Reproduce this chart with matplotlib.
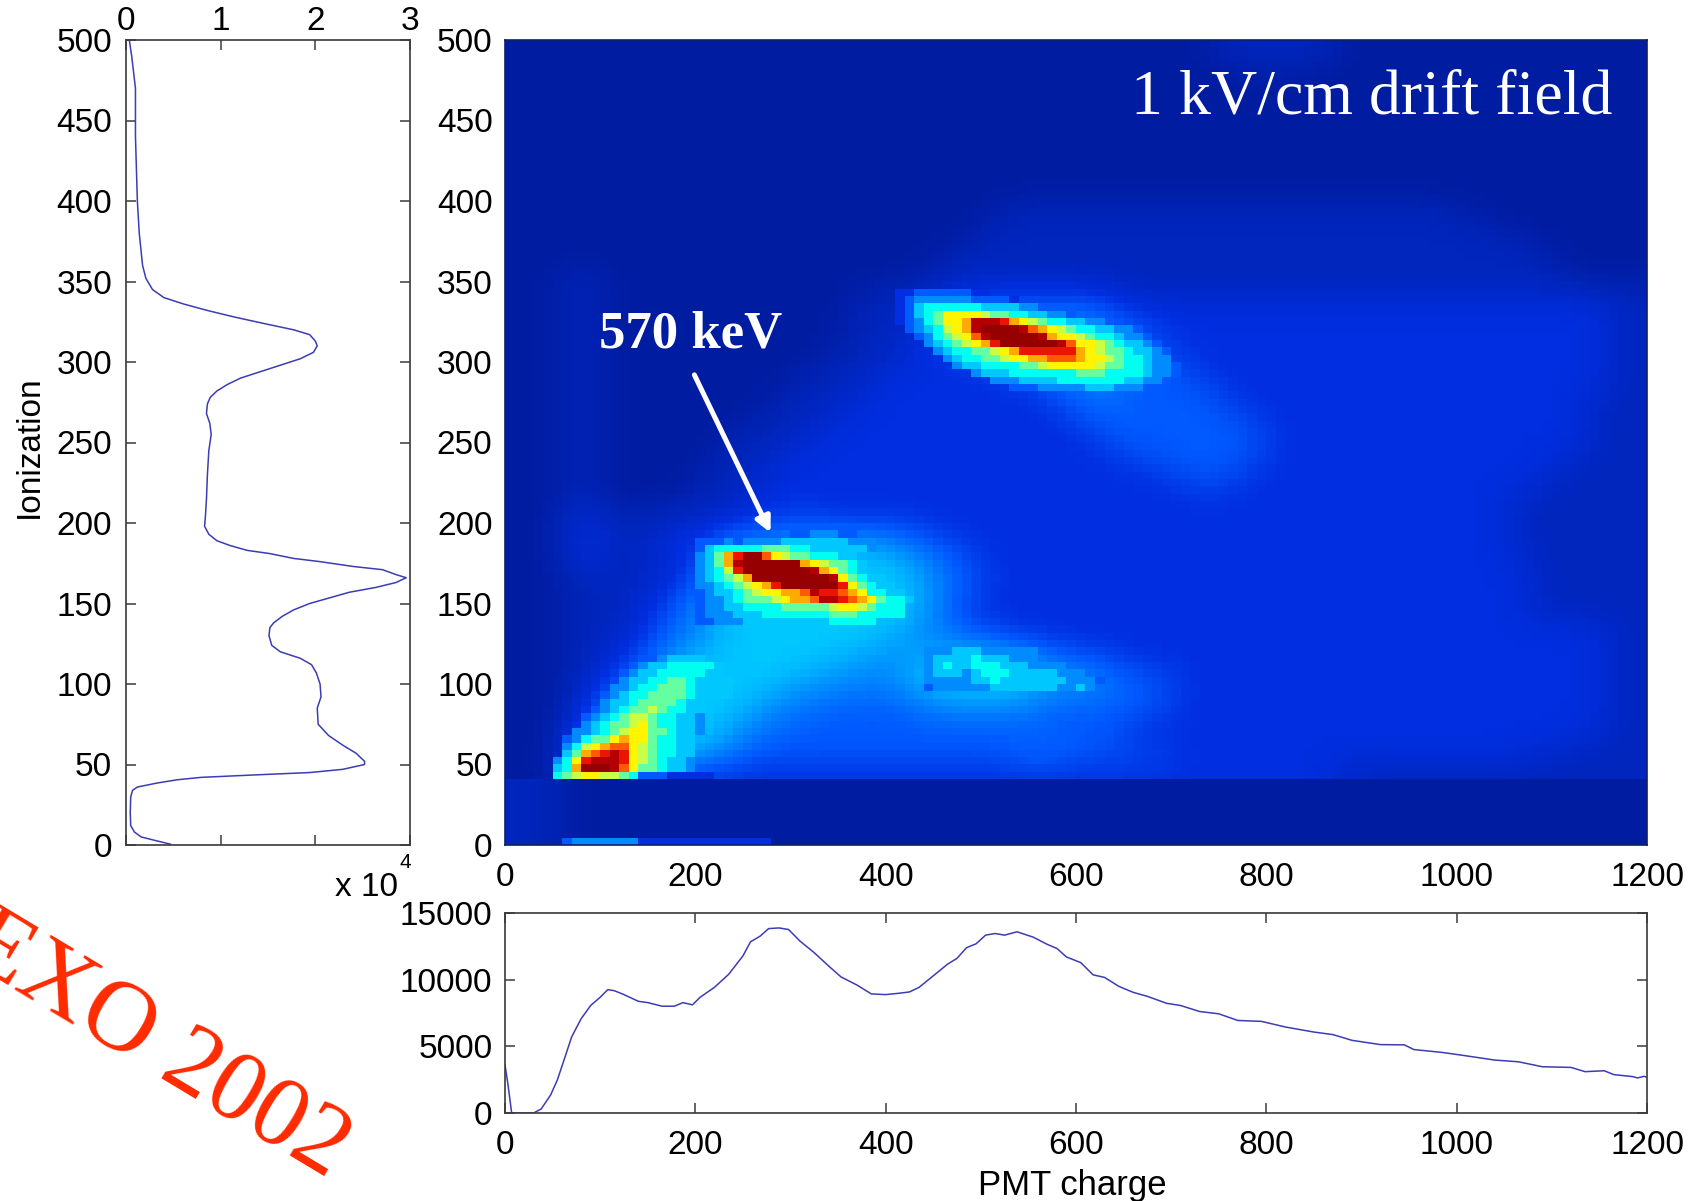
import numpy as np
import matplotlib
matplotlib.use('Agg')
import matplotlib.pyplot as plt
from matplotlib.colors import LinearSegmentedColormap

W, H = 1688, 1201

# colour levels of the map, hex digit per cell ('.' = leave what is below)
level_colors = ['#00148c', '#001ca0', '#0026be', '#002ee0', '#005aff', '#008cff',
                '#00c8ff', '#00fff0', '#64ffa0', '#c8ff46', '#fff500', '#ffaa00',
                '#ff5a00', '#eb1400', '#b40000', '#960000']

# coarse background, y = 495 .. 45 in steps of 10, x bins of 20
background = [
    '1111111111 1111111111 1111111111 1111111222 2222111111 1111111111',
    '1111111111 1111111111 1111111111 1111111122 2221111111 1111111111',
    '1111111111 1111111111 1111111111 1111111111 1111111111 1111111111',
    '1111111111 1111111111 1111111111 1111111111 1111111111 1111111111',
    '1111111111 1111111111 1111111111 1111111111 1111111111 1111111111',
    '1111111111 1111111111 1111111111 1111111111 1111111111 1111111111',
    '1111111111 1111111111 1111111111 1111111111 1111111111 1111111111',
    '1111111111 1111111111 1111111111 1111111111 1111111111 1111111111',
    '1111111111 1111111111 1111111111 1111111111 1111111111 1111111111',
    '1111111111 1111111111 1111111111 1111111111 1111111111 1111111111',
    '1111111111 1111111111 1111112222 2222222222 2222222222 1111111111',
    '1111111111 1111111111 1111122222 2222222222 2222222222 2211111111',
    '1111111111 1111111111 1111222222 2222222222 2222222222 2222111111',
    '1111111111 1111111111 1112222222 2222222222 2222222222 2222211111',
    '1112211111 1111111111 1122222222 2222222222 2222222222 2222221111',
    '1112211111 1111111112 2223333333 3322222222 2222222222 2222222222',
    '1112211111 1111111122 2233344444 4433333333 3333333333 3333333322',
    '1112211111 1111111122 2234455555 5444333333 3333333333 3333333322',
    '1112211111 1111111122 2334455556 5544333333 3333333333 3333333322',
    '1112211111 1111111222 2333445555 5544433333 3333333333 3333333322',
    '1112211111 1111112222 3333334455 5544443333 3333333333 3333333322',
    '1112211111 1111122223 3333333344 5544444333 3333333333 3333333322',
    '1112211111 1111222233 3333333334 4544444433 3333333333 3333333222',
    '1112211111 1112222333 3333333333 4444444443 3333333333 3333333222',
    '1112211111 1122223333 3333333333 3444444444 3333333333 3333333222',
    '1112211111 1222233333 3333333333 3344444444 3333333333 3333333222',
    '1112211111 1222333333 3333333333 3333444443 3333333333 3333322222',
    '1112211111 2223333333 3333333333 3333334433 3333333333 3333322222',
    '1112211112 2223333333 3333333333 3333333333 3333333333 3332222222',
    '1113322222 2233343333 3333333333 3333333333 3333333333 3332222222',
    '1113322233 3444444444 4433333333 3333333333 3333333333 3332222222',
    '1113322233 3555566666 5544333333 3333333333 3333333333 3332222222',
    '1113322233 3666666666 6554433333 3333333333 3333333333 3333222222',
    '1112222233 4666666666 6654433333 3333333333 3333333333 3333222222',
    '1112222334 5666666666 6654433333 3333333333 3333333333 3333222222',
    '1112222344 5666666666 6654333333 3333333333 3333333333 3333222222',
    '1112222345 5666666666 6554433333 3333333333 3333333333 3333333322',
    '1112223445 5666666666 5555554433 3333333333 3333333333 3333333322',
    '1112233456 6666666655 5566666655 4433333333 3333333333 3333333322',
    '1112234566 6666665555 5666666655 5544433333 3333333333 3333333322',
    '1112345666 6666555554 5566666655 5544433333 3333333333 3333333322',
    '1112356666 6665554444 4455555544 4444433333 3333333333 3333333322',
    '1113466666 6655444444 4444444444 4443333333 3333333333 3333333322',
    '1113566666 6554444444 4444444444 4433333333 3333333333 3333333222',
    '1114666666 6544444444 4444444554 4444433333 3333333333 3333222222',
    '1113333333 3333333333 3333333333 3333333333 3333222222 2222222222',
]

# dark band under the threshold, y = 35 .. 5
floor_band = [
    '2221111111 1111111111 1111111111 1111111111 1111111111 1111111111',
    '2221111111 1111111111 1111111111 1111111111 1111111111 1111111111',
    '2221111111 1111111111 1111111111 1111111111 1111111111 1111111111',
    '2221111111 1111111111 1111111111 1111111111 1111111111 1111111111',
]

peak_570 = [
    '..........4455544',
    '4445455556666666555',
    '4677777888776666665',
    '568bdffca98877766',
    '568beffffffba98876',
    '5679dfffffffeba876',
    '56789bffffffffea8766',
    '556789abdffffffda8766',
    '4566789aabbceddcba7766',
    '455678889abbceedcba8776',
    '4556677778888' + '89aa98777',
    '4555666777777788877777',
    '4455566666666677777',
]
peak_upper = [
    '3344444433',
    '3455555544443',
    '3467777776666554',
    '34678aaaa9887766554',
    '34578aabeeedba987766554',
    '.45679abeffffecba987766554',
    '..45789acefffffebaa98776554',
    '...56789abdffffffecaa9876654',
    '....5677889abddddddba98876654',
    '.....5677889aabbcccbaa9877655',
    '......5667777889aaaaa988776554',
    '........5666777777788877776554',
    '..........5556666777777766554',
    '............4445555566655544',
]
peak_lower = [
    '..........456666',
    '........4566777776',
    '.......45667777766',
    '.......566778876666',
    '......5567788876666',
    '.....45677888876666',
    '.....56678888766',
    '....456788987766',
    '...4567899877665',
    '...567889a877665',
    '..556789aa887665',
    '.45788abaa87766',
    '.579abcca987766',
    '.68bcdeda987766',
    '57adeeeda987665',
    '67bfffeca887665',
    '789aa998744433333',
]
side_blob = [
    '555666555555',
    '566667666555',
    '567667776665555',
    '56665677766666555',
    '5555566766666665554',
    '455555566666665565',
]
bottom_strip = ['.4555555533333333333333']

# projection on ionization axis (y, counts / 1e4)
ion_y = [500, 490, 470, 455, 440, 420, 400, 380, 360, 352, 345, 340, 336, 332, 328, 324, 320, 317, 313,
         310, 306, 302, 298, 294, 290, 286, 282, 278, 274, 268, 262, 255, 245, 230, 215, 205, 198, 193,
         189, 186, 183, 181, 178, 176, 173, 171, 168, 166, 163, 160, 157, 153, 150, 146, 142, 138, 135,
         130, 124, 120, 116, 112, 107, 100, 92, 85, 75, 68, 62, 57, 52, 50, 47, 45, 43.5, 42, 40.5, 38.5,
         36, 34, 30, 20, 12, 8, 5, 2.5, 0.5]
ion_counts = [.035, .06, .10, .10, .10, .11, .12, .14, .175, .21, .28, .40, .61, .86, 1.14, 1.45, 1.77, 1.94, 2.0,
              2.02, 1.98, 1.84, 1.63, 1.42, 1.21, 1.07, .96, .89, .86, .85, .885, .90, .875, .86, .85, .84, .83, .875,
              .96, 1.10, 1.28, 1.52, 1.77, 2.05, 2.40, 2.71, 2.85, 2.96, 2.85, 2.64, 2.36, 2.12, 1.94, 1.77, 1.65, 1.56, 1.52,
              1.51, 1.54, 1.63, 1.84, 1.96, 2.01, 2.05, 2.06, 2.02, 2.03, 2.14, 2.29, 2.43, 2.52, 2.52, 2.29, 1.94, 1.35, .79, .54, .33,
              .12, .07, .05, .045, .05, .09, .16, .33, .47]

# projection on PMT charge axis
pmt_x = [0, 3, 7, 30, 38, 48, 55, 62, 70, 80, 90, 100, 108, 115, 125, 140, 150, 165, 178, 187, 197, 205, 220, 235,
         250, 258, 268, 277, 288, 298, 310, 325, 340, 353, 370, 385, 400, 414, 425, 435, 448, 465, 475, 485, 495,
         505, 515, 525, 538, 555, 570, 580, 590, 605, 618, 630, 645, 660, 675, 695, 710, 730, 750, 770, 795, 820,
         850, 870, 890, 920, 945, 955, 985, 1005, 1040, 1065, 1090, 1120, 1135, 1155, 1165, 1185, 1190, 1197, 1200]
pmt_counts = [3600, 2200, 0, 0, 300, 1360, 2480, 3970, 5700, 7070, 8060, 8680, 9250, 9170, 8880, 8380, 8280, 8010, 8010,
              8280, 8110, 8680, 9420, 10400, 11780, 12840, 13260, 13830, 13880, 13760, 12890, 12020, 11030, 10210, 9590,
              8930, 8880, 8980, 9080, 9420, 10170, 11160, 11600, 12400, 12690, 13340, 13460, 13340, 13590, 13190, 12640,
              12340, 11700, 11280, 10360, 10170, 9500, 9050, 8750, 8230, 8060, 7610, 7440, 6940, 6870, 6450, 6070, 5880,
              5450, 5130, 5110, 4760, 4540, 4340, 3970, 3840, 3470, 3420, 3100, 3170, 2880, 2730, 2630, 2750, 2680]

y_ticks_ion = [0, 50, 100, 150, 200, 250, 300, 350, 400, 450, 500]
x_ticks_pmt = [0, 200, 400, 600, 800, 1000, 1200]
y_ticks_pmt = [0, 5000, 10000, 15000]
x_ticks_ion = [0, 1, 2, 3]

NROWS, NCOLS = 110, 120
CELL_Y = 500 / NROWS
line_color = '#3c3cb4'
frame_color = '#3a3a3a'
LABEL_SIZE = 24


def parse(rows):
    return np.array([[int(c, 16) for c in r.replace(' ', '')] for r in rows], dtype=float)


def upsample(coarse, coarse_y, fine_y, fine_x):
    coarse_x = np.arange(10, 1200, 20)
    by_row = np.array([np.interp(fine_x, coarse_x, r) for r in coarse])
    order = np.argsort(coarse_y)
    return np.array([np.interp(fine_y, coarse_y[order], c[order]) for c in by_row.T]).T


def soften(grid, kernel):
    # same look as the jpeg in the slide, steps between levels wash out
    kernel = np.array(kernel, dtype=float)
    kernel /= kernel.sum()
    half = len(kernel) // 2
    for axis in (0, 1):
        padded = np.pad(grid, [(half, half) if a == axis else (0, 0) for a in (0, 1)], mode='edge')
        grid = np.apply_along_axis(lambda v: np.convolve(v, kernel, mode='valid'), axis, padded)
    return grid


def stamp(grid, rows, first_col, top_y):
    top_row = int(round((500 - top_y) / CELL_Y))
    for i, r in enumerate(rows):
        for j, c in enumerate(r):
            if c != '.':
                grid[top_row + i, first_col + j] = int(c, 16)


def make_axes(fig, left, right, top, bottom):
    return fig.add_axes([left / W, 1 - bottom / H, (right - left) / W, (bottom - top) / H])


def main():
    plt.rcParams['font.family'] = ['Liberation Sans', 'DejaVu Sans']
    fig = plt.figure(figsize=(W / 100, H / 100), dpi=100)

    # heat map
    fine_x = np.arange(5, 1200, 10)
    fine_y = 500 - (np.arange(NROWS) + 0.5) * CELL_Y
    upper = fine_y >= 40
    grid = np.zeros((NROWS, NCOLS))
    blur = [1, 2, 3, 4, 5, 4, 3, 2, 1]
    grid[upper] = soften(upsample(parse(background), np.arange(495, 40, -10.0), fine_y[upper], fine_x), blur)
    grid[~upper] = soften(upsample(parse(floor_band), np.arange(35, 0, -10.0), fine_y[~upper], fine_x), blur)
    stamp(grid, side_blob, 44, 123)
    stamp(grid, peak_570, 20, 194)
    stamp(grid, peak_upper, 41, 345)
    stamp(grid, peak_lower, 5, 118)
    stamp(grid, bottom_strip, 5, CELL_Y)

    cmap = LinearSegmentedColormap.from_list('levels', level_colors, N=256)
    ax = make_axes(fig, 505, 1647, 40, 845)
    ax.imshow(grid, cmap=cmap, vmin=0, vmax=15, extent=[0, 1200, 0, 500], aspect='auto', interpolation='nearest')
    ax.set_xticks(x_ticks_pmt)
    ax.set_yticks(y_ticks_ion)
    ax.tick_params(length=0, labelsize=LABEL_SIZE, pad=12)
    ax.tick_params(axis='y', pad=9)
    for s in ax.spines.values():
        s.set_color('#10206a')
        s.set_linewidth(1.2)

    ax.text(0.970, 0.909, '1 kV/cm drift field', transform=ax.transAxes, family='Liberation Serif',
            color='white', fontsize=46, ha='right', va='baseline')
    ax.text(99, 309, '570 keV', family='Liberation Serif', weight='bold', color='white',
            fontsize=38, ha='left', va='baseline')
    ax.annotate('', xy=(279, 194), xytext=(199, 292),
                arrowprops=dict(arrowstyle='-|>,head_length=0.9,head_width=0.45', color='white', lw=3.6,
                                shrinkA=0, shrinkB=0))

    # ionization projection
    ax_ion = make_axes(fig, 126, 410, 40, 845)
    ax_ion.plot(ion_counts, ion_y, color=line_color, lw=1.1)
    ax_ion.set_xlim(0, 3)
    ax_ion.set_ylim(0, 500)
    ax_ion.set_xticks(x_ticks_ion)
    ax_ion.set_yticks(y_ticks_ion)
    ax_ion.xaxis.tick_top()
    ax_ion.tick_params(axis='both', direction='in', length=7, width=1.1, color=frame_color,
                       labelsize=LABEL_SIZE, top=True, bottom=True, left=True, right=True)
    ax_ion.tick_params(axis='y', pad=10)
    ax_ion.tick_params(axis='x', pad=2)
    for s in ax_ion.spines.values():
        s.set_color(frame_color)
        s.set_linewidth(1.2)
    fig.text(29 / W, 1 - 447 / H, 'Ionization', rotation=90, fontsize=24, ha='center', va='center')
    fig.text(335 / W, 1 - 896 / H, 'x 10', fontsize=24, ha='left', va='baseline')
    fig.text(399 / W, 1 - 868 / H, '4', fontsize=15, ha='left', va='baseline')

    # PMT charge projection
    ax_pmt = make_axes(fig, 505, 1647, 913, 1113)
    ax_pmt.plot(pmt_x, pmt_counts, color=line_color, lw=1.1)
    ax_pmt.set_xlim(0, 1200)
    ax_pmt.set_ylim(0, 15000)
    ax_pmt.set_xticks(x_ticks_pmt)
    ax_pmt.set_yticks(y_ticks_pmt)
    ax_pmt.tick_params(axis='both', direction='in', length=7, width=1.1, color=frame_color,
                       labelsize=LABEL_SIZE, top=True, right=True)
    ax_pmt.tick_params(axis='y', pad=9)
    ax_pmt.tick_params(axis='x', pad=12)
    for s in ax_pmt.spines.values():
        s.set_color(frame_color)
        s.set_linewidth(1.2)
    fig.text(1072 / W, 1 - 1185 / H, 'PMT charge', fontsize=25, ha='center', va='center')

    fig.text(157 / W, 1 - 1047 / H, 'EXO 2002', family='Liberation Serif', color='#ff2a00', fontsize=72,
             rotation=-31, rotation_mode='anchor', ha='center', va='center')

    fig.savefig('out.png', dpi=100)


if __name__ == "__main__":
    main()
